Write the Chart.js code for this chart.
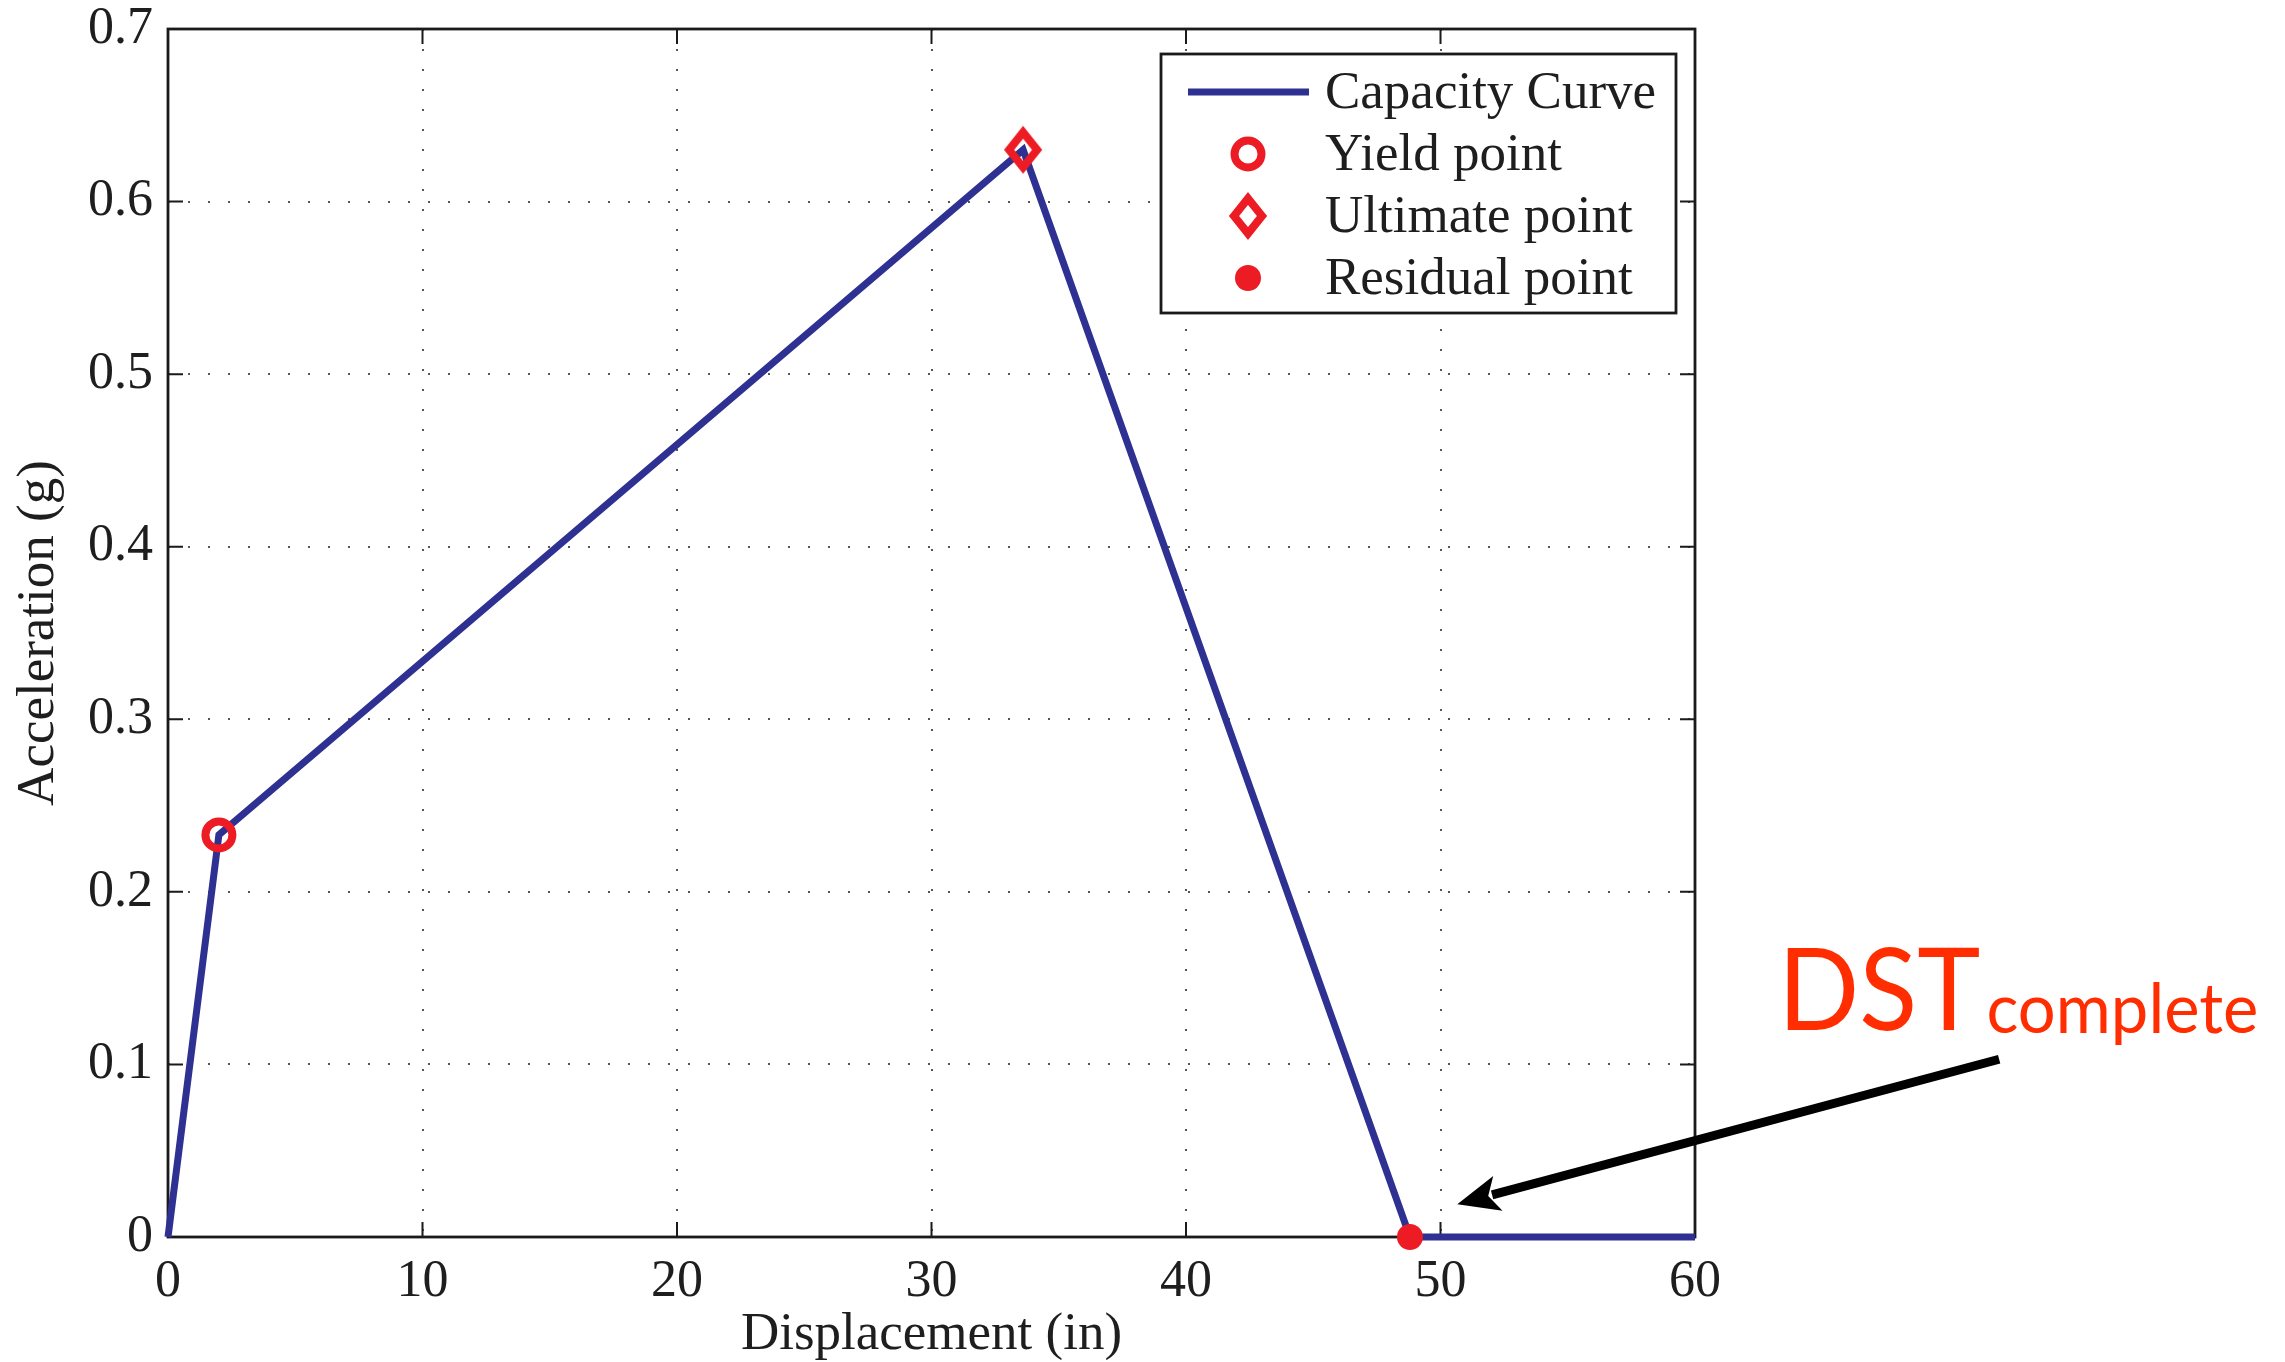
<!DOCTYPE html>
<html>
<head>
<meta charset="utf-8">
<script src="https://cdn.jsdelivr.net/npm/chart.js@4.4.1/dist/chart.umd.min.js"></script>
<style>
  html, body { margin: 0; padding: 0; background: #fff; }
  #wrap { width: 2285px; height: 1362px; position: relative; }
</style>
</head>
<body>
<div id="wrap"><canvas id="myChart"></canvas></div>
<script>
// capacity curve (displacement in inches, acceleration in g)
const displacement = [0, 2.0, 33.6, 48.8, 60];
const acceleration = [0, 0.233, 0.63, 0, 0];

// key points
const yieldPoint = { x: 2.0, y: 0.233 };
const ultimatePoint = { x: 33.6, y: 0.63 };
const residualPoint = { x: 48.8, y: 0 };

// axis ticks
const xTicks = [0, 10, 20, 30, 40, 50, 60];
const yTickLabels = ["0", "0.1", "0.2", "0.3", "0.4", "0.5", "0.6", "0.7"];

const seriesNames = ["Capacity Curve", "Yield point", "Ultimate point", "Residual point"];

const BLUE = '#2e3192';
const RED = '#ed1c24';
const TEXT = '#1e1e1e';
const SERIF = "'Liberation Serif', 'Times New Roman', serif";

// tall diamond marker (matlab 'd')
function makeDiamond() {
    const c = document.createElement('canvas');
    c.width = 64; c.height = 72;
    const g = c.getContext('2d');
    g.strokeStyle = RED;
    g.lineWidth = 8;
    g.lineJoin = 'miter';
    g.beginPath();
    g.moveTo(32, 36 - 17.5);
    g.lineTo(32 + 14, 36);
    g.lineTo(32, 36 + 17.5);
    g.lineTo(32 - 14, 36);
    g.closePath();
    g.stroke();
    return c;
}
const diamond = makeDiamond();

// box, inward ticks, legend and the DST annotation
const decorPlugin = {
    id: 'decor',
    beforeDatasetsDraw(chart) {
        const { ctx, chartArea: a, scales } = chart;
        ctx.save();
        ctx.strokeStyle = '#1a1a1a';
        ctx.lineWidth = 2.8;
        ctx.strokeRect(a.left, a.top, a.right - a.left, a.bottom - a.top);
        ctx.lineWidth = 2;
        ctx.beginPath();
        xTicks.forEach(v => {
            const px = scales.x.getPixelForValue(v);
            ctx.moveTo(px, a.bottom); ctx.lineTo(px, a.bottom - 15);
            ctx.moveTo(px, a.top); ctx.lineTo(px, a.top + 15);
        });
        yTickLabels.forEach(s => {
            const py = scales.y.getPixelForValue(parseFloat(s));
            ctx.moveTo(a.left, py); ctx.lineTo(a.left + 15, py);
            ctx.moveTo(a.right, py); ctx.lineTo(a.right - 15, py);
        });
        ctx.stroke();
        ctx.restore();
    },
    afterDraw(chart) {
        const { ctx, scales } = chart;
        ctx.save();

        // legend
        const lx = 1161, ly = 54, lw = 515, lh = 259;
        ctx.fillStyle = '#fff';
        ctx.fillRect(lx, ly, lw, lh);
        ctx.strokeStyle = '#1a1a1a';
        ctx.lineWidth = 2.8;
        ctx.strokeRect(lx, ly, lw, lh);
        const rowY = [92, 154, 216, 278];
        const mx = 1248;
        ctx.strokeStyle = BLUE;
        ctx.lineWidth = 7;
        ctx.beginPath();
        ctx.moveTo(1188, rowY[0]); ctx.lineTo(1309, rowY[0]);
        ctx.stroke();
        ctx.strokeStyle = RED;
        ctx.lineWidth = 8;
        ctx.beginPath();
        ctx.arc(mx, rowY[1], 13.5, 0, Math.PI * 2);
        ctx.stroke();
        ctx.drawImage(diamond, mx - diamond.width / 2, rowY[2] - diamond.height / 2);
        ctx.fillStyle = RED;
        ctx.beginPath();
        ctx.arc(mx, rowY[3], 13, 0, Math.PI * 2);
        ctx.fill();
        ctx.fillStyle = TEXT;
        ctx.font = "53px " + SERIF;
        ctx.textBaseline = 'middle';
        ctx.textAlign = 'left';
        seriesNames.forEach((n, i) => ctx.fillText(n, 1325, rowY[i] + 2));

        // DST annotation arrow
        const x0 = scales.x.getPixelForValue(71.95), y0 = scales.y.getPixelForValue(0.103);
        const x1 = scales.x.getPixelForValue(50.66), y1 = scales.y.getPixelForValue(0.019);
        const ang = Math.atan2(y1 - y0, x1 - x0);
        const head = 42, half = 18;
        const bx = x1 - head * Math.cos(ang), by = y1 - head * Math.sin(ang);
        ctx.strokeStyle = '#000';
        ctx.lineWidth = 9;
        ctx.beginPath();
        ctx.moveTo(x0, y0); ctx.lineTo(bx + 6 * Math.cos(ang), by + 6 * Math.sin(ang));
        ctx.stroke();
        ctx.fillStyle = '#000';
        ctx.beginPath();
        ctx.moveTo(x1, y1);
        ctx.lineTo(bx + half * Math.sin(ang), by - half * Math.cos(ang));
        ctx.lineTo(bx + 10 * Math.cos(ang), by + 10 * Math.sin(ang));
        ctx.lineTo(bx - half * Math.sin(ang), by + half * Math.cos(ang));
        ctx.closePath();
        ctx.fill();

        // label
        const sx = 0.93;
        ctx.fillStyle = '#ff2d00';
        ctx.textBaseline = 'alphabetic';
        ctx.textAlign = 'left';
        ctx.save();
        ctx.translate(1778, 1030);
        ctx.scale(sx, 1);
        ctx.font = "115px Lato, 'Open Sans', sans-serif";
        ctx.fillText('DST', 0, 0);
        const w = ctx.measureText('DST').width * sx;
        ctx.restore();
        ctx.save();
        ctx.translate(1778 + w + 6, 1033);
        ctx.scale(0.97, 1);
        ctx.font = "69px Lato, 'Open Sans', sans-serif";
        ctx.fillText('complete', 0, 0);
        ctx.restore();
        ctx.restore();
    }
};

const ctx = document.getElementById('myChart').getContext('2d');
const myChart = new Chart(ctx, {
    type: 'line',
    data: {
        datasets: [{
            label: seriesNames[0],
            data: displacement.map((d, i) => ({ x: d, y: acceleration[i] })),
            borderColor: BLUE,
            borderWidth: 7,
            pointRadius: 0,
            tension: 0,
            fill: false,
            clip: false,
            order: 2
        }, {
            label: seriesNames[1],
            data: [yieldPoint],
            showLine: false,
            pointStyle: 'circle',
            pointRadius: 13.5,
            pointBorderWidth: 8,
            pointBorderColor: RED,
            pointBackgroundColor: 'rgba(0,0,0,0)',
            clip: false,
            order: 1
        }, {
            label: seriesNames[2],
            data: [ultimatePoint],
            showLine: false,
            pointStyle: diamond,
            pointRadius: 20,
            clip: false,
            order: 1
        }, {
            label: seriesNames[3],
            data: [residualPoint],
            showLine: false,
            pointStyle: 'circle',
            pointRadius: 13,
            pointBorderWidth: 0,
            pointBackgroundColor: RED,
            clip: false,
            order: 1
        }]
    },
    options: {
        responsive: true,
        maintainAspectRatio: false,
        animation: false,
        layout: { padding: { top: 29, right: 590, left: 0, bottom: 0 } },
        scales: {
            x: {
                type: 'linear',
                min: 0, max: 60,
                afterFit: s => { s.height = 125; },
                afterBuildTicks: s => { s.ticks = xTicks.map(v => ({ value: v })); },
                ticks: {
                    color: TEXT,
                    padding: 14,
                    font: { family: SERIF, size: 52 }
                },
                grid: { color: '#555', lineWidth: 2, drawTicks: false },
                border: { display: false, dash: [2, 18] },
                title: {
                    display: true,
                    text: 'Displacement (in)',
                    color: TEXT,
                    font: { family: SERIF, size: 53, lineHeight: 1 },
                    padding: { top: 0, bottom: 0 }
                }
            },
            y: {
                type: 'linear',
                min: 0, max: 0.7,
                afterFit: s => { s.width = 168; },
                afterBuildTicks: s => { s.ticks = yTickLabels.map(t => ({ value: parseFloat(t) })); },
                ticks: {
                    color: TEXT,
                    padding: 15,
                    font: { family: SERIF, size: 52, lineHeight: 0.5 },
                    callback: (v, i) => yTickLabels[i]
                },
                grid: { color: '#555', lineWidth: 2, drawTicks: false },
                border: { display: false, dash: [2, 18] },
                title: {
                    display: true,
                    text: 'Acceleration (g)',
                    color: TEXT,
                    font: { family: SERIF, size: 53, lineHeight: 1 },
                    padding: { top: 13, bottom: 0 }
                }
            }
        },
        plugins: {
            legend: { display: false },
            tooltip: { enabled: false }
        }
    },
    plugins: [decorPlugin]
});
</script>
</body>
</html>
